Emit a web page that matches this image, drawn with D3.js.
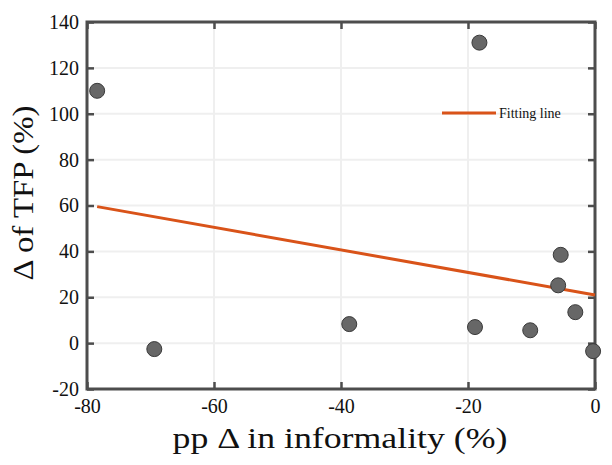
<!DOCTYPE html>
<html>
<head>
<meta charset="utf-8">
<script src="https://cdn.jsdelivr.net/npm/d3@7"></script>
<style>
  body { margin: 0; background: #fff; }
</style>
</head>
<body>
<div id="chart"></div>
<script>
// data
const informality = [-78.4, -69.4, -38.7, -18.2, -18.9, -10.2, -5.4, -5.8, -3.1, -0.3];
const tfp = [110, -2.6, 8.3, 131, 7, 5.6, 38.5, 25.2, 13.5, -3.5];
const fitX = [-78.4, 0];
const fitY = [59.5, 21];
const xTicks = [-80, -60, -40, -20, 0];
const yTicks = [-20, 0, 20, 40, 60, 80, 100, 120, 140];

const FONT = "Liberation Serif";
const W = 612, H = 465;
const margin = {top: 22, right: 17, bottom: 76, left: 87};
const width = W - margin.left - margin.right,
      height = H - margin.top - margin.bottom;

const svg = d3.select("#chart").append("svg")
    .attr("width", W).attr("height", H);
const g = svg.append("g")
    .attr("transform", `translate(${margin.left},${margin.top})`);

const x = d3.scaleLinear().domain([-80, 0]).range([0, width]);
const y = d3.scaleLinear().domain([-20, 140]).range([height, 0]);

// grid
g.selectAll(".gx").data(xTicks.slice(1, -1)).enter().append("line")
    .attr("x1", d => x(d)).attr("x2", d => x(d))
    .attr("y1", 0).attr("y2", height)
    .attr("stroke", "#efefef").attr("stroke-width", 2);
g.selectAll(".gy").data(yTicks.slice(1, -1)).enter().append("line")
    .attr("y1", d => y(d)).attr("y2", d => y(d))
    .attr("x1", 0).attr("x2", width)
    .attr("stroke", "#efefef").attr("stroke-width", 2);

// axes (ticks inside, box on)
const axisStyle = sel => {
  sel.attr("font-family", FONT).attr("font-size", 20);
  sel.select(".domain").remove();
  sel.selectAll(".tick line").attr("stroke", "#4d4d4d").attr("stroke-width", 2.5);
  sel.selectAll("text").attr("fill", "#111").style("font-family", FONT);
};
const fmt = d => String(d);
g.append("g").attr("transform", `translate(0,${height})`)
  .call(d3.axisBottom(x).tickValues(xTicks).tickSize(-7).tickPadding(10).tickFormat(fmt))
  .call(axisStyle);
g.append("g")
  .call(d3.axisLeft(y).tickValues(yTicks).tickSize(-7).tickPadding(8).tickFormat(fmt))
  .call(axisStyle);
g.append("g")
  .call(d3.axisTop(x).tickValues(xTicks).tickSize(-7).tickFormat(""))
  .call(axisStyle);
g.append("g").attr("transform", `translate(${width},0)`)
  .call(d3.axisRight(y).tickValues(yTicks).tickSize(-7).tickFormat(""))
  .call(axisStyle);

g.append("rect")
  .attr("width", width).attr("height", height)
  .attr("fill", "none").attr("stroke", "#4d4d4d").attr("stroke-width", 3);

// fitting line
const line = d3.line().x(d => x(d[0])).y(d => y(d[1]));
g.append("path")
  .datum(d3.zip(fitX, fitY))
  .attr("fill", "none").attr("stroke", "#d95319").attr("stroke-width", 3)
  .attr("d", line);

// points
g.selectAll("circle").data(d3.zip(informality, tfp)).enter().append("circle")
  .attr("cx", d => x(d[0])).attr("cy", d => y(d[1]))
  .attr("r", 7.5)
  .attr("fill", "#676767").attr("stroke", "#3a3a3a").attr("stroke-width", 1);

// legend
g.append("line")
  .attr("x1", 355).attr("x2", 409).attr("y1", 91).attr("y2", 91)
  .attr("stroke", "#d95319").attr("stroke-width", 3);
g.append("text").attr("x", 412).attr("y", 96)
  .style("font-family", FONT).attr("font-size", 14).attr("fill", "#111")
  .text("Fitting line");

// axis labels (LaTeX-like, a bit wider than Times)
svg.append("text")
  .attr("x", 340).attr("y", 448)
  .attr("text-anchor", "middle")
  .attr("textLength", 335).attr("lengthAdjust", "spacingAndGlyphs")
  .style("font-family", FONT).attr("font-size", 29).attr("fill", "#111")
  .text("pp \u0394 in informality (%)");
svg.append("text")
  .attr("transform", "translate(33,193) rotate(-90)")
  .attr("text-anchor", "middle")
  .attr("textLength", 175).attr("lengthAdjust", "spacingAndGlyphs")
  .style("font-family", FONT).attr("font-size", 29).attr("fill", "#111")
  .text("\u0394 of TFP (%)");
</script>
</body>
</html>
